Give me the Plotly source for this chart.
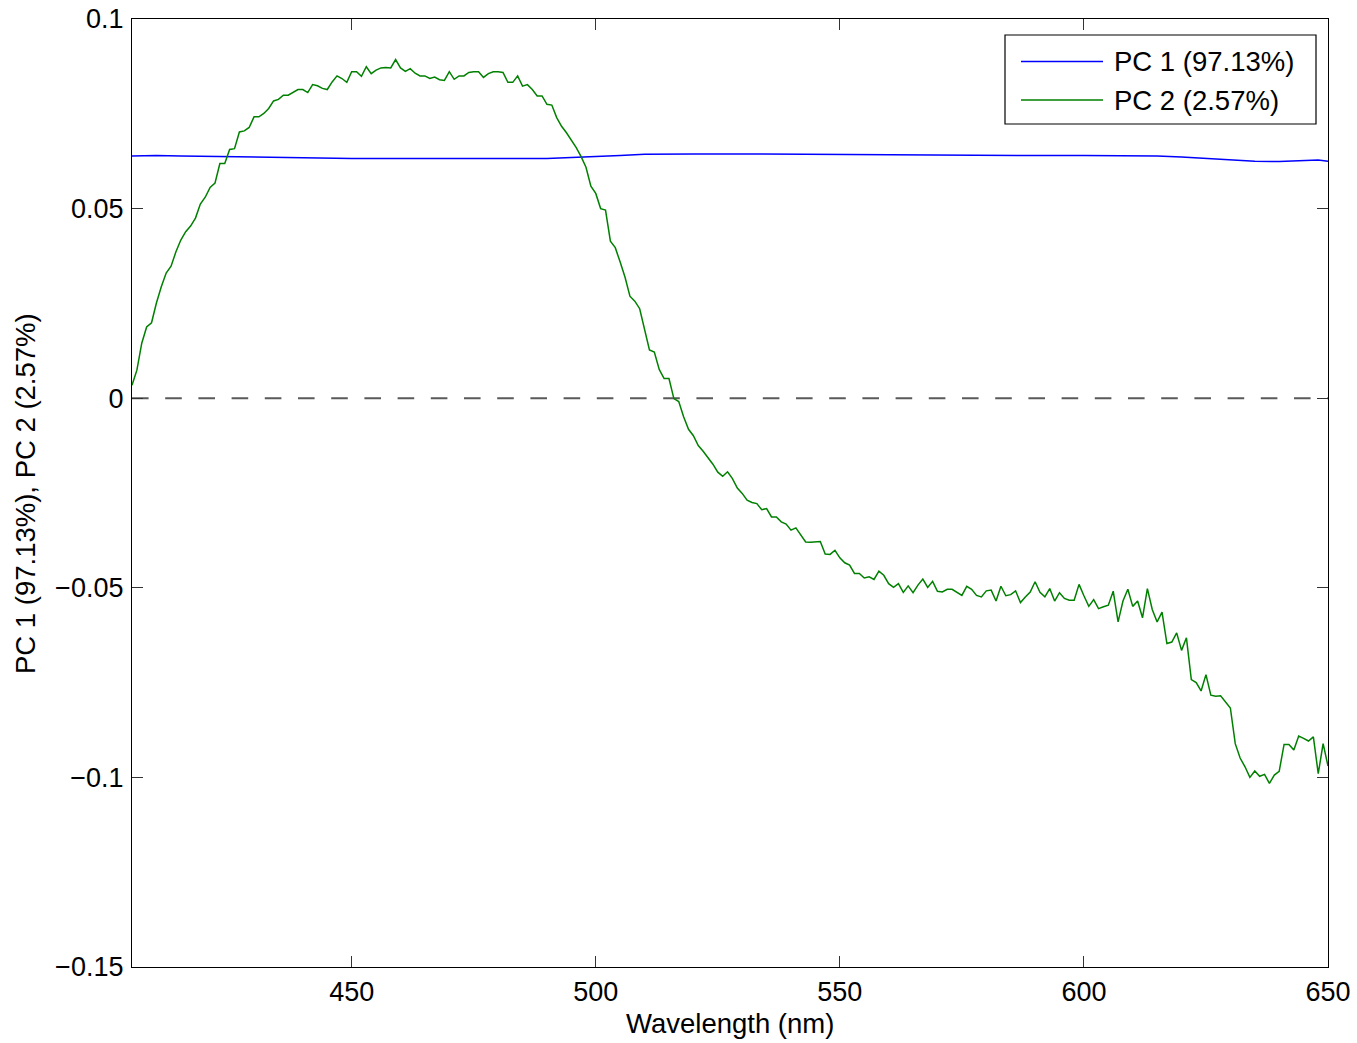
import numpy as np
import plotly.graph_objects as go

# Principal component loadings across the visible spectrum
wavelength_pc2 = list(range(405, 651))  # 1 nm steps
pc2 = [
    0.0034, 0.0074, 0.0145, 0.0188, 0.0199, 0.0251, 0.0294, 0.0330, 0.0348, 0.0386,
    0.0417, 0.0439, 0.0454, 0.0475, 0.0512, 0.0530, 0.0556, 0.0567, 0.0619, 0.0619,
    0.0656, 0.0658, 0.0702, 0.0705, 0.0714, 0.0742, 0.0742, 0.0751, 0.0764, 0.0784,
    0.0788, 0.0799, 0.0799, 0.0806, 0.0814, 0.0814, 0.0806, 0.0827, 0.0824, 0.0817,
    0.0814, 0.0834, 0.0850, 0.0843, 0.0833, 0.0861, 0.0861, 0.0849, 0.0874, 0.0856,
    0.0865, 0.0871, 0.0872, 0.0871, 0.0893, 0.0871, 0.0862, 0.0869, 0.0857, 0.0850,
    0.0850, 0.0843, 0.0847, 0.0840, 0.0838, 0.0861, 0.0841, 0.0850, 0.0850, 0.0859,
    0.0861, 0.0861, 0.0846, 0.0856, 0.0861, 0.0861, 0.0859, 0.0833, 0.0833, 0.0850,
    0.0823, 0.0827, 0.0814, 0.0797, 0.0797, 0.0775, 0.0773, 0.0740, 0.0717, 0.0700,
    0.0680, 0.0661, 0.0637, 0.0609, 0.0559, 0.0540, 0.0500, 0.0496, 0.0414, 0.0397,
    0.0359, 0.0319, 0.0269, 0.0256, 0.0236, 0.0179, 0.0127, 0.0122, 0.0076, 0.0052,
    0.0052, -0.0001, -0.0009, -0.0049, -0.0082, -0.0099, -0.0125, -0.0140, -0.0156, -0.0174,
    -0.0195, -0.0206, -0.0194, -0.0212, -0.0237, -0.0251, -0.0269, -0.0275, -0.0278, -0.0294,
    -0.0291, -0.0313, -0.0313, -0.0326, -0.0332, -0.0348, -0.0342, -0.0361, -0.0379, -0.0380,
    -0.0379, -0.0378, -0.0411, -0.0412, -0.0401, -0.0421, -0.0434, -0.0440, -0.0462, -0.0462,
    -0.0474, -0.0471, -0.0478, -0.0456, -0.0467, -0.0489, -0.0499, -0.0489, -0.0512, -0.0495,
    -0.0513, -0.0493, -0.0477, -0.0499, -0.0483, -0.0509, -0.0511, -0.0504, -0.0504, -0.0511,
    -0.0520, -0.0496, -0.0504, -0.0520, -0.0524, -0.0508, -0.0506, -0.0535, -0.0496, -0.0521,
    -0.0518, -0.0508, -0.0539, -0.0524, -0.0511, -0.0484, -0.0512, -0.0524, -0.0502, -0.0535,
    -0.0513, -0.0528, -0.0533, -0.0533, -0.0491, -0.0521, -0.0549, -0.0531, -0.0555, -0.0550,
    -0.0546, -0.0509, -0.0590, -0.0535, -0.0504, -0.0549, -0.0535, -0.0579, -0.0502, -0.0557,
    -0.0590, -0.0564, -0.0647, -0.0643, -0.0619, -0.0665, -0.0632, -0.0742, -0.0750, -0.0772,
    -0.0729, -0.0783, -0.0786, -0.0785, -0.0801, -0.0817, -0.0911, -0.0949, -0.0972, -0.1000,
    -0.0983, -0.0997, -0.0992, -0.1016, -0.0994, -0.0984, -0.0913, -0.0913, -0.0928, -0.0891,
    -0.0897, -0.0904, -0.0893, -0.0990, -0.0911, -0.0970,
]

wavelength_pc1 = [405, 410, 415, 420, 425, 430, 435, 440, 445, 450, 455, 460, 465, 470,
                  475, 480, 485, 490, 495, 500, 505, 510, 515, 520, 530, 540, 550, 560,
                  570, 580, 590, 600, 610, 615, 620, 625, 630, 635, 640, 645, 648, 650]
pc1 = [0.0639, 0.0640, 0.0639, 0.0638, 0.0637, 0.0636, 0.0634, 0.0633, 0.0632, 0.0632,
       0.0632, 0.0631, 0.0632, 0.0632, 0.0632, 0.0631, 0.0632, 0.0632, 0.0635, 0.0637,
       0.0640, 0.0643, 0.0644, 0.0644, 0.0644, 0.0643, 0.0643, 0.0641, 0.0641, 0.0641,
       0.0640, 0.0640, 0.0640, 0.0639, 0.0636, 0.0633, 0.0629, 0.0625, 0.0624, 0.0626,
       0.0628, 0.0625]

series_names = ["PC 1 (97.13%)", "PC 2 (2.57%)"]
series_colors = ["#0000ff", "#008000"]
x_ticks = [450, 500, 550, 600, 650]
y_ticks = [0.1, 0.05, 0, -0.05, -0.1, -0.15]
x_range = [405, 650]
y_range = [-0.15, 0.1]
x_title = "Wavelength (nm)"
y_title = "PC 1 (97.13%), PC 2 (2.57%)"

W, H = 1357, 1043
ML, MR, MT, MB = 132, 29, 19, 76
FONT = "Liberation Sans, Arial, Helvetica, sans-serif"


def px_x(p):
    return (p - ML) / (W - ML - MR)


def px_y(p):
    return (H - MB - p) / (H - MT - MB)


fig = go.Figure()
fig.add_trace(go.Scatter(x=wavelength_pc1, y=pc1, mode="lines", name=series_names[0],
                         line=dict(color=series_colors[0], width=1.5), showlegend=False))
fig.add_trace(go.Scatter(x=wavelength_pc2, y=pc2, mode="lines", name=series_names[1],
                         line=dict(color=series_colors[1], width=1.5), showlegend=False))

shapes = [
    # zero reference line
    dict(type="line", xref="paper", yref="y", x0=0, x1=1, y0=0, y1=0,
         line=dict(color="#5a5a5a", width=2, dash="16.6px,16.6px"), layer="below"),
    # legend frame
    dict(type="rect", xref="paper", yref="paper",
         x0=px_x(1005), x1=px_x(1316), y0=px_y(124), y1=px_y(35),
         line=dict(color="black", width=1.2), fillcolor="white", layer="above"),
]
annotations = []
for i, (name, col) in enumerate(zip(series_names, series_colors)):
    yc = px_y(61.5 + 38.5 * i)
    shapes.append(dict(type="line", xref="paper", yref="paper",
                       x0=px_x(1021), x1=px_x(1103), y0=yc, y1=yc,
                       line=dict(color=col, width=1.3), layer="above"))
    annotations.append(dict(text=name, xref="paper", yref="paper", x=px_x(1112), y=yc,
                            xanchor="left", yanchor="middle", showarrow=False,
                            font=dict(family=FONT, size=27.5, color="black")))

# axis titles
annotations.append(dict(text=x_title, xref="paper", yref="paper",
                        x=px_x(729.5), y=px_y(1023), xanchor="center", yanchor="middle",
                        showarrow=False, font=dict(family=FONT, size=27.5, color="black")))
annotations.append(dict(text=y_title, xref="paper", yref="paper", textangle=-90,
                        x=px_x(26), y=px_y(494), xanchor="center", yanchor="middle",
                        showarrow=False, font=dict(family=FONT, size=27.5, color="black")))

axis_common = dict(showline=True, linecolor="black", linewidth=1.3, mirror="ticks",
                   ticks="inside", ticklen=11, tickwidth=1.2, tickcolor="#333333",
                   showgrid=False, zeroline=False,
                   tickfont=dict(family=FONT, size=27, color="black"))

fig.update_layout(
    width=W, height=H,
    margin=dict(l=ML, r=MR, t=MT, b=MB, autoexpand=False),
    paper_bgcolor="white", plot_bgcolor="white",
    shapes=shapes, annotations=annotations, showlegend=False,
    xaxis=dict(range=x_range, tickvals=x_ticks, **axis_common),
    yaxis=dict(range=y_range, tickvals=y_ticks, ticklabelstandoff=2, **axis_common),
)

fig.write_html("out.html")
